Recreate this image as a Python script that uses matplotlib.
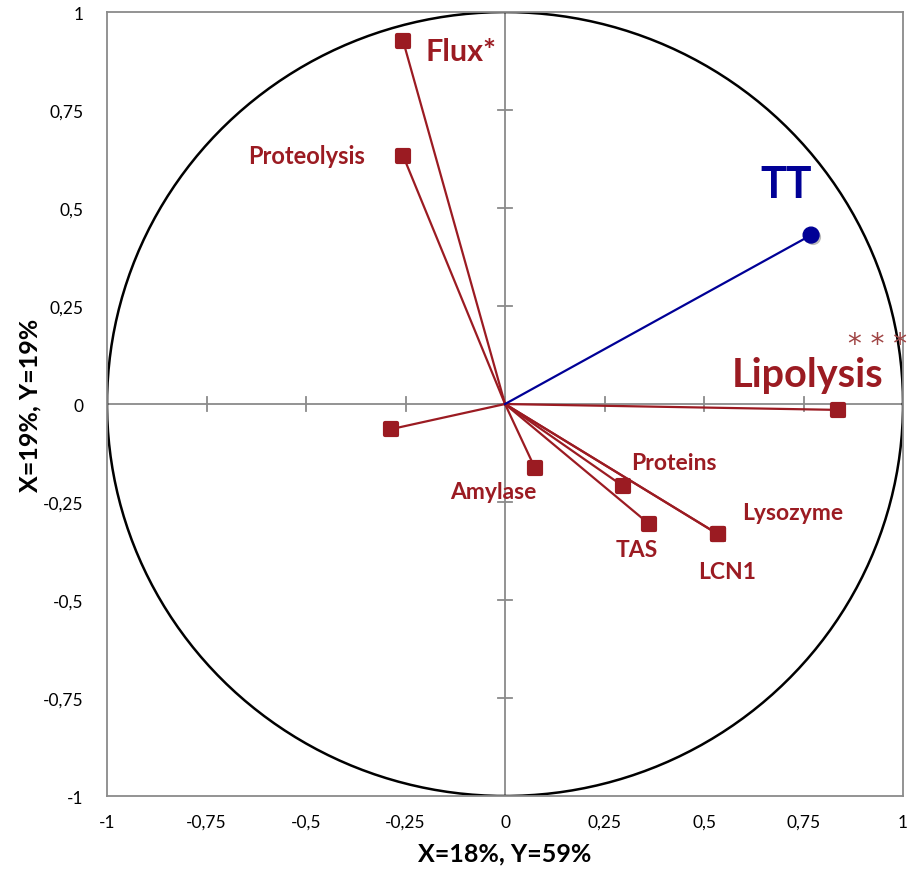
import numpy as np
import matplotlib
matplotlib.use("Agg")
import matplotlib.pyplot as plt
import matplotlib.patheffects as pe

plt.rcParams['font.family'] = ['Lato', 'DejaVu Sans']

# variables (correlation circle coordinates)
names = ['Flux*', 'Proteolysis', 'Lipolysis', '', 'Amylase', 'Proteins', 'TAS', 'LCN1', 'Lysozyme']
xs = [-0.256, -0.256, 0.837, -0.286, 0.075, 0.296, 0.362, 0.535, 0.535]
ys = [0.926, 0.633, -0.015, -0.064, -0.163, -0.209, -0.306, -0.332, -0.332]
# label anchor offsets (data units) and sizes
lab_dx = [0.055, -0.096, -0.267, 0, -0.105, 0.021, -0.03, -0.05, 0.06]
lab_dy = [-0.025, 0.002, 0.09, 0, -0.061, 0.061, -0.064, -0.094, 0.054]
lab_ha = ['left', 'right', 'left', 'left', 'center', 'left', 'center', 'left', 'left']
lab_fs = [22, 17, 28.5, 16.5, 16.5, 16.5, 16.5, 16.5, 16.5]

# supplementary variable
tt_x, tt_y = 0.769, 0.431

ticks = [-1, -0.75, -0.5, -0.25, 0, 0.25, 0.5, 0.75, 1]
tick_labels = ['-1', '-0,75', '-0,5', '-0,25', '0', '0,25', '0,5', '0,75', '1']

red = '#9B1B22'
blue = '#000096'

fig = plt.figure(figsize=(9.14, 8.70), dpi=100)
ax = fig.add_axes([0.1171, 0.0839, 0.8709, 0.9011])
ax.set_xlim(-1, 1)
ax.set_ylim(-1, 1)

for s in ax.spines.values():
    s.set_color('#8a8a8a')
    s.set_linewidth(1.3)

ax.set_xticks(ticks)
ax.set_xticklabels(tick_labels)
ax.set_yticks(ticks)
ax.set_yticklabels(tick_labels)
ax.tick_params(length=0, labelsize=12.5, pad=13)
ax.tick_params(axis='y', pad=17)

# centre axes with cross ticks
ax.axhline(0, color='#8a8a8a', lw=1.3, zorder=1)
ax.axvline(0, color='#8a8a8a', lw=1.3, zorder=1)
for t in ticks[1:-1]:
    ax.plot([t, t], [-0.017, 0.017], color='#8a8a8a', lw=1.3, zorder=1)
    ax.plot([-0.017, 0.017], [t, t], color='#8a8a8a', lw=1.3, zorder=1)

# unit circle
th = np.linspace(0, 2 * np.pi, 400)
ax.plot(np.cos(th), np.sin(th), color='black', lw=1.8, zorder=2)

shadow = [pe.SimplePatchShadow(offset=(1.5, -1.5), shadow_rgbFace='#777777', alpha=0.5), pe.Normal()]

for x, y in zip(xs, ys):
    ax.plot([0, x], [0, y], color=red, lw=1.6, zorder=3)
ax.scatter(xs, ys, marker='s', s=80, color=red, edgecolor=red, linewidths=3,
           joinstyle='round', zorder=4, path_effects=shadow)
for n, x, y, dx, dy, ha, fs in zip(names, xs, ys, lab_dx, lab_dy, lab_ha, lab_fs):
    if n:
        ax.text(x + dx, y + dy, n, color=red, fontsize=fs, fontweight='bold',
                ha=ha, va='center', zorder=5)
ax.text(0.862, 0.152, '* * *', color='#A04545', fontsize=20, ha='left', va='center',
        family='DejaVu Sans', clip_on=False)

ax.plot([0, tt_x], [0, tt_y], color=blue, lw=1.6, zorder=3)
ax.scatter([tt_x], [tt_y], marker='o', s=130, color=blue, zorder=4, path_effects=shadow)
ax.text(tt_x - 0.063, tt_y + 0.13, 'TT', color=blue, fontsize=31, fontweight='bold',
        ha='center', va='center')

ax.set_xlabel('X=18%, Y=59%', fontsize=18, fontweight='bold', labelpad=8)
ax.set_ylabel('X=19%, Y=19%', fontsize=18, fontweight='bold', labelpad=1)

fig.savefig('out.png', dpi=100)
